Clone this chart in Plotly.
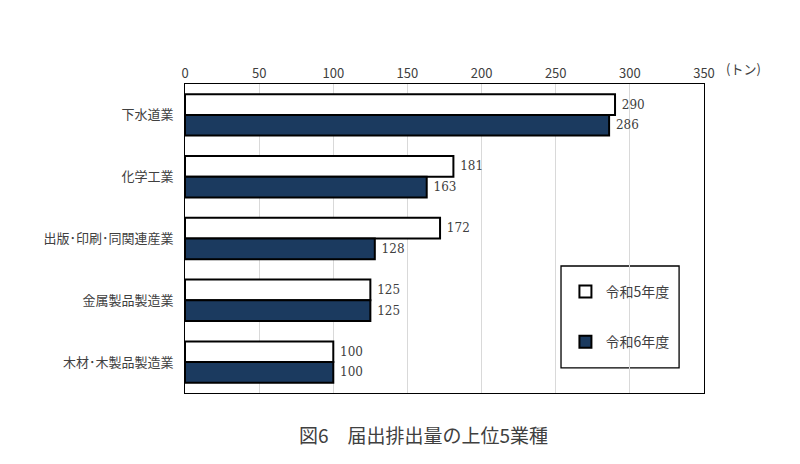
import plotly.graph_objects as go

# 業種と排出量（トン）
categories = ['下水道業', '化学工業', '出版･印刷･同関連産業', '金属製品製造業', '木材･木製品製造業']
r5_values = [290, 181, 172, 125, 100]
r6_values = [286, 163, 128, 125, 100]
x_ticks = [0, 50, 100, 150, 200, 250, 300, 350]

FONT = 'Noto Sans CJK JP'
NAVY = '#1b3a5f'
LABEL_FONT = dict(family='DejaVu Serif', size=12, color='#404040')

fig = go.Figure()
fig.add_trace(go.Bar(
    y=categories, x=r5_values, orientation='h', name='令和5年度',
    legendgroup='r5',
    marker=dict(color='white', line=dict(color='black', width=2)),
    text=r5_values, texttemplate=' %{x}', textposition='outside',
    cliponaxis=False, textfont=LABEL_FONT))
fig.add_trace(go.Bar(
    y=categories, x=r6_values, orientation='h', name='令和6年度',
    legendgroup='r6',
    marker=dict(color=NAVY, line=dict(color='black', width=2)),
    text=r6_values, texttemplate=' %{x}', textposition='outside',
    cliponaxis=False, textfont=LABEL_FONT))

# ページ余白8pxを考慮して784x448で描く
fig.update_layout(
    width=784, height=448,
    margin=dict(l=177, r=88, t=76, b=63),
    paper_bgcolor='white', plot_bgcolor='white',
    font=dict(family=FONT, size=13, color='#404040'),
    barmode='group', bargap=0.33, bargroupgap=0,
    showlegend=True,
    legend=dict(x=0.733, y=0.379, xanchor='left', yanchor='top',
                bgcolor='rgba(0,0,0,0)', borderwidth=0,
                tracegroupgap=29, traceorder='grouped',
                font=dict(family=FONT, size=14, color='#404040')),
    xaxis=dict(side='top', range=[0, 350], tickvals=x_ticks,
               showgrid=True, gridcolor='#d9d9d9', gridwidth=1,
               showline=True, linecolor='black', linewidth=1, mirror=True,
               zeroline=False, ticks='', tickfont=dict(size=13, color='#404040')),
    yaxis=dict(autorange='reversed', showline=True, linecolor='black',
               linewidth=1, mirror=True, ticks='', ticklabelstandoff=8,
               tickfont=dict(size=13, color='#404040')),
    shapes=[dict(type='rect', xref='paper', yref='paper',
                 x0=0.7245, x1=0.952, y0=0.081, y1=0.411,
                 line=dict(color='black', width=1.3), fillcolor='white',
                 layer='below')],
    annotations=[
        dict(text='(トン)', xref='paper', yref='paper', x=1.0, y=1.0,
             xanchor='left', yanchor='bottom', yshift=4, xshift=20, showarrow=False,
             font=dict(family=FONT, size=13, color='#404040')),
        dict(text='図6　届出排出量の上位5業種', xref='paper', yref='paper',
             x=0.46, y=0, xanchor='center', yanchor='middle', yshift=-41,
             showarrow=False, font=dict(family=FONT, size=19, color='#404040')),
    ],
)

fig.write_html('out.html')
